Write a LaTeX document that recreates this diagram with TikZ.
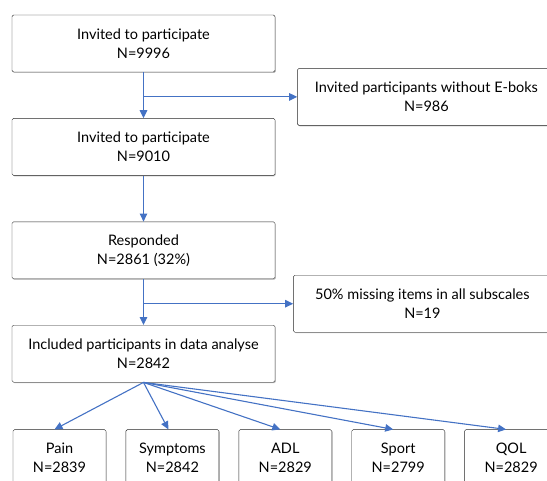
\documentclass[tikz,border=0pt]{standalone}
\usepackage{fontspec}
\setmainfont{Lato}
\usetikzlibrary{positioning,shadows,arrows.meta}
\definecolor{flowblue}{RGB}{68,114,196}

\begin{document}
\begin{tikzpicture}[node distance=46pt,
    box/.style={draw=black!85, rounded corners=1.5pt, fill=white, align=center,
      minimum width=263pt, minimum height=57pt, inner sep=0pt,
      font=\fontsize{14.5}{19}\selectfont,
      drop shadow={shadow xshift=0.9pt, shadow yshift=-0.9pt, opacity=0.5}},
    sidebox/.style={box, minimum width=258pt},
    scorebox/.style={box, minimum width=93pt},
    flow/.style={draw=flowblue, line width=1.1pt, ->},
    >={Triangle[length=8pt, width=7.5pt]}]
    \clip (0,0) rectangle (547pt,-480pt);

    \node[box] (invited) at (143.5pt,-43.5pt) {Invited to participate\\N=9996};
    \node[box, below=of invited] (invited2) {Invited to participate\\N=9010};
    \node[box, below=of invited2] (responded) {Responded\\N=2861 (32\%)};
    \node[box, below=of responded] (included) {Included participants in data analyse\\N=2842};

    \node[sidebox, below right=-4pt and 22pt of invited] (noeboks) {Invited participants without E-boks\\N=986};
    \node[sidebox, below right=-4pt and 18pt of responded] (missing) {50\% missing items in all subscales\\N=19};

    \node[scorebox, below=47pt of included.south west, anchor=north west, xshift=1pt] (pain) {Pain\\N=2839};
    \node[scorebox, right=19.5pt of pain] (symptoms) {Symptoms\\N=2842};
    \node[scorebox, right=19.5pt of symptoms] (adl) {ADL\\N=2829};
    \node[scorebox, right=19.5pt of adl] (sport) {Sport\\N=2799};
    \node[scorebox, right=19.5pt of sport] (qol) {QOL\\N=2829};

    \draw[flow] (invited) -- (invited2);
    \draw[flow] (invited.south |- noeboks.west) -- (noeboks.west);
    \draw[flow] (invited2) -- (responded);
    \draw[flow] (responded) -- (included);
    \draw[flow] (responded.south |- missing.west) -- (missing.west);

    \draw[flow] (included.south) -- ([xshift=-5pt]pain.north);
    \draw[flow] (included.south) -- ([xshift=-4pt]symptoms.north);
    \draw[flow] (included.south) -- ([xshift=-5pt]adl.north);
    \draw[flow] (included.south) -- ([xshift=-5pt]sport.north);
    \draw[flow] (included.south) -- ([xshift=-5pt]qol.north);
\end{tikzpicture}
\end{document}
